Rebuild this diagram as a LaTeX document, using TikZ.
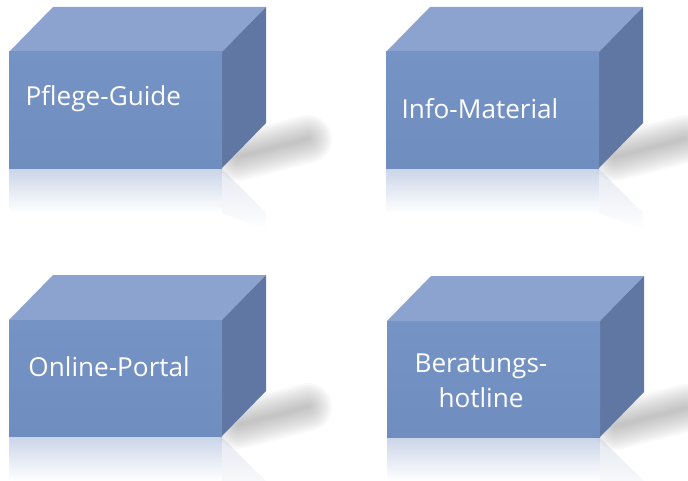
\documentclass[tikz,border=0pt]{standalone}
\usepackage{fontspec}
\newfontfamily\labelfont{Open Sans}
\usetikzlibrary{fadings}

\tikzfading[name=mirrorfade, top color=transparent!40, bottom color=transparent!100]
\tikzfading[name=sidefade, top color=transparent!75, bottom color=transparent!100]

\tikzset{every picture/.style={line width=0.75pt},
  frontface/.style={top color={rgb,255:red,118;green,147;blue,198}, bottom color={rgb,255:red,112;green,141;blue,192}},
  topface/.style={fill={rgb,255:red,140;green,163;blue,208}},
  sideface/.style={fill={rgb,255:red,96;green,119;blue,164}},
  shadowlayer/.style={draw={rgb,255:red,115;green,115;blue,115}, line cap=round, draw opacity=0.045},
  boxmirror/.style={fill={rgb,255:red,168;green,186;blue,218}, path fading=mirrorfade},
  sidemirror/.style={fill={rgb,255:red,150;green,165;blue,195}, path fading=sidefade},
  boxlabel/.style={inner sep=0pt, text=white, font={\labelfont\fontsize{19.6}{26}\selectfont}}
}

\begin{document}
\begin{tikzpicture}[x=0.75pt,y=0.75pt,yscale=-1,xscale=1]
\useasboundingbox (0,0) rectangle (688,481);

%Shadows
\foreach \dx/\dy in {0/0,377/0,0/268,378/269}
  \foreach \w in {3,6,...,36}
    \draw [shadowlayer, line width=\w, shift={(\dx,\dy)}] (238,157) -- (308,139) ;

%Mirror images
\fill [boxmirror] (9,169) rectangle (222,213) ;
\fill [sidemirror] (222,169) -- (266,213) -- (266,230) -- (222,213) -- cycle ;
\fill [boxmirror] (386,169) rectangle (599,213) ;
\fill [sidemirror] (599,169) -- (643,213) -- (643,230) -- (599,213) -- cycle ;
\fill [boxmirror] (9,437) rectangle (222,481) ;
\fill [sidemirror] (222,437) -- (266,481) -- (266,498) -- (222,481) -- cycle ;
\fill [boxmirror] (387,438) rectangle (600,481) ;
\fill [sidemirror] (600,438) -- (644,481) -- (644,499) -- (600,481) -- cycle ;

%Shape: Box [Pflege-Guide]
\fill [topface] (9,52) -- (53,7) -- (266,7) -- (222,52) -- cycle ;
\fill [sideface] (222,52) -- (266,7) -- (266,123) -- (222,168) -- cycle ;
\fill [frontface] (9,52) rectangle (222,168) ;
%Shape: Box [Info-Material]
\fill [topface] (386,52) -- (430,7) -- (643,7) -- (599,52) -- cycle ;
\fill [sideface] (599,52) -- (643,7) -- (643,123) -- (599,168) -- cycle ;
\fill [frontface] (386,52) rectangle (599,168) ;
%Shape: Box [Online-Portal]
\fill [topface] (9,320) -- (53,275) -- (266,275) -- (222,320) -- cycle ;
\fill [sideface] (222,320) -- (266,275) -- (266,391) -- (222,436) -- cycle ;
\fill [frontface] (9,320) rectangle (222,436) ;
%Shape: Box [Beratungshotline]
\fill [topface] (387,321) -- (431,276) -- (644,276) -- (600,321) -- cycle ;
\fill [sideface] (600,321) -- (644,276) -- (644,392) -- (600,437) -- cycle ;
\fill [frontface] (387,321) rectangle (600,437) ;

% Text Node
\draw (25,106) node (guide) [anchor=base west] [boxlabel] {Pflege-Guide};
% Text Node
\draw (401,118) node (info) [anchor=base west] [boxlabel] {Info-Material};
% Text Node
\draw (28,376) node (portal) [anchor=base west] [boxlabel] {Online-Portal};
% Text Node
\draw (481,381) node (hotline) [anchor=center] [boxlabel, align=center] {Beratungs-\\hotline};

\end{tikzpicture}
\end{document}
